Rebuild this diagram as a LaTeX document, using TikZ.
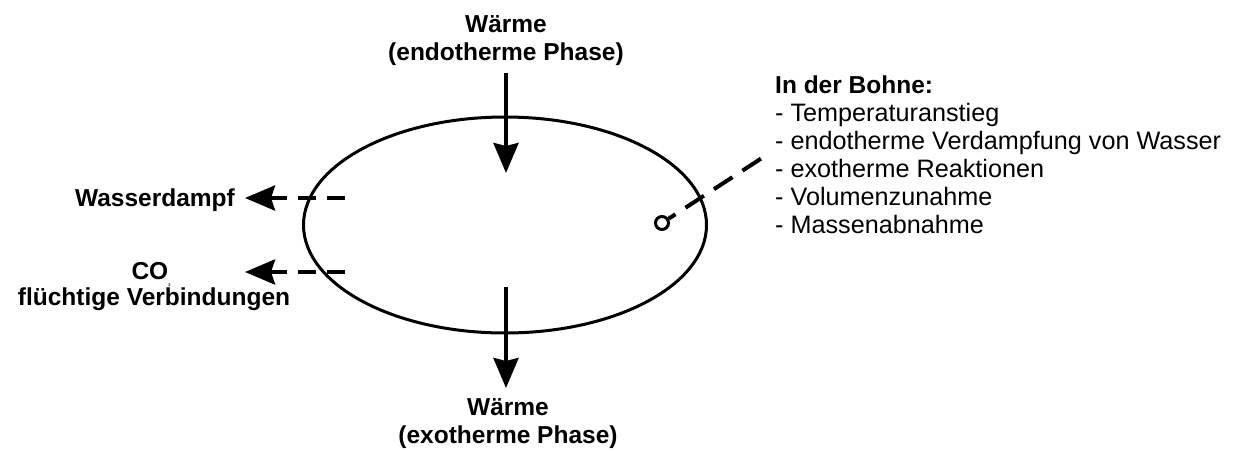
\documentclass[tikz,border=0pt]{standalone}
\usepackage{fontspec}
\setmainfont{Liberation Sans}
\usetikzlibrary{arrows.meta,shapes.geometric}
\begin{document}
\begin{tikzpicture}[x=1pt,y=-1pt,
  lbl/.style={font=\fontsize{24.5}{28}\selectfont\bfseries, inner sep=0pt, anchor=base},
  item/.style={font=\fontsize{25.2}{28}\selectfont, inner sep=0pt, anchor=base west},
  heat/.style={line width=4pt, -{Stealth[length=30pt,width=25pt,inset=3pt]}},
  vapour/.style={line width=4pt, dash pattern=on 18pt off 11pt, -{Stealth[length=30pt,width=25pt,inset=4pt]}},
  callout/.style={line width=4pt, dash pattern=on 22pt off 12pt, dash phase=14pt}
]
\useasboundingbox (0,0) rectangle (1234,450);

% bean
\node[draw, ellipse, line width=3pt, minimum width=403pt, minimum height=216pt, inner sep=0pt] (bean) at (505,225) {};
\node[draw, circle, line width=3pt, minimum size=13pt, inner sep=0pt] (probe) at (662,223) {};

% top heat
\node[lbl] (inA) at (506,32) {Wärme};
\node[lbl] (inB) at (506,60) {(endotherme Phase)};
\coordinate (inS) at (506,73);
\coordinate (inE) at (506,173);
\draw[heat] (inS) -- (inE);

% bottom heat
\coordinate (outS) at (506,287);
\coordinate (outE) at (506,388);
\draw[heat] (outS) -- (outE);
\node[lbl] (outA) at (508,415) {Wärme};
\node[lbl] (outB) at (508,443) {(exotherme Phase)};

% left outputs
\node[lbl, anchor=base east] (wd) at (235,206) {Wasserdampf};
\coordinate (wdS) at (345,198);
\coordinate (wdT) at (245,198);
\draw[vapour] (wdS) -- (wdT);

\node[lbl] (co) at (151,279) {CO\raisebox{-7pt}{\fontsize{4}{4}\selectfont 2}};
\node[lbl] (fv) at (154,305) {flüchtige Verbindungen};
\coordinate (coS) at (345,272);
\coordinate (coT) at (245,272);
\draw[vapour] (coS) -- (coT);

% callout
\coordinate (cE) at (765,156);
\draw[callout] (probe) -- (cE);
\node[lbl, anchor=base west] (hd) at (775,93) {In der Bohne:};
\node[item] (i1) at (775,121) {- Temperaturanstieg};
\node[item] (i2) at (775,149) {- endotherme Verdampfung von Wasser};
\node[item] (i3) at (775,177) {- exotherme Reaktionen};
\node[item] (i4) at (775,205) {- Volumenzunahme};
\node[item] (i5) at (775,233) {- Massenabnahme};
\end{tikzpicture}
\end{document}
